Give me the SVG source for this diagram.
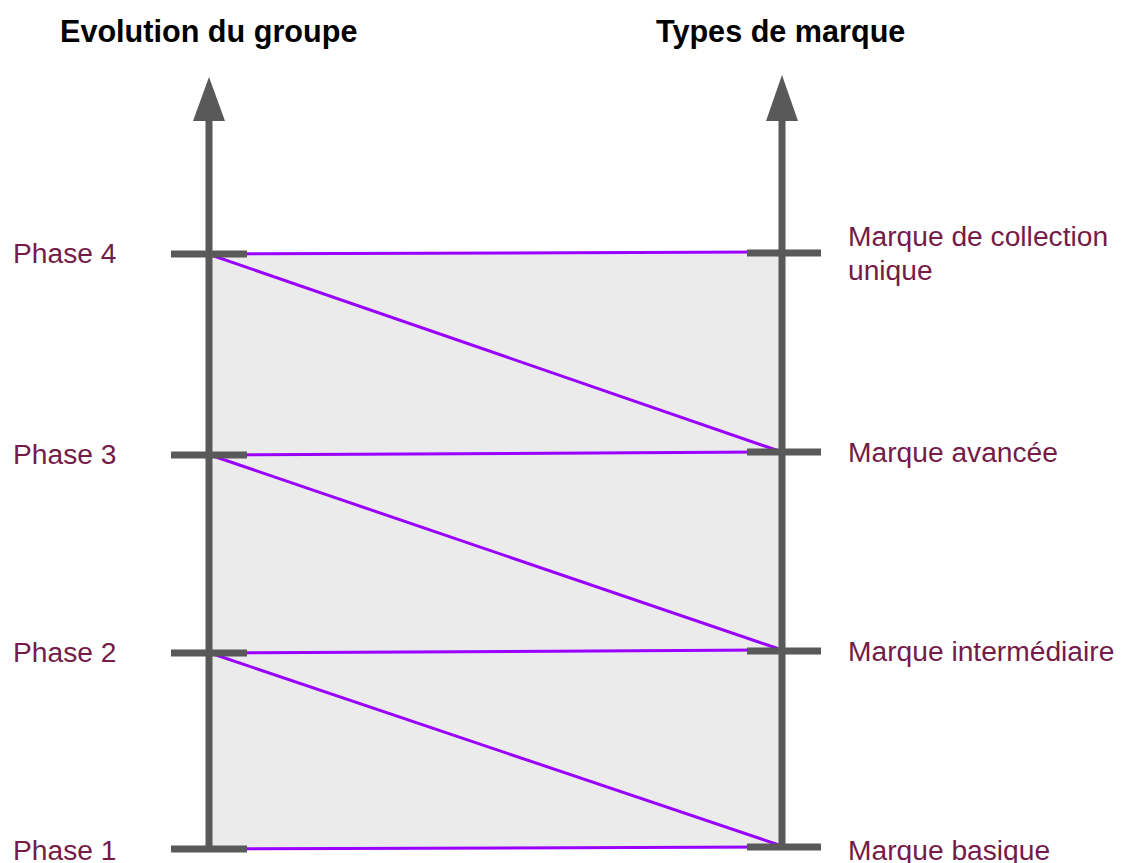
<svg xmlns="http://www.w3.org/2000/svg" width="1121" height="863" viewBox="0 0 1121 863">
<style>
.title{font-family:"Liberation Sans",Arial,sans-serif;font-weight:bold;font-size:30.6px;fill:#000}
.lbl{font-family:"Liberation Sans",Arial,sans-serif;font-size:28.2px;fill:#741b47}
.axis{stroke:#595959;stroke-width:7;fill:none}
.tick{stroke:#595959;stroke-width:7}
.link{stroke:#9900ff;stroke-width:3;fill:none}
</style>
<rect x="209" y="254" width="573" height="595" fill="#ebebeb"/>
<g id="connectors">
<line class="link" x1="209" y1="254" x2="782" y2="252"/>
<line class="link" x1="211" y1="255" x2="782" y2="452"/>
<line class="link" x1="209" y1="455" x2="782" y2="452"/>
<line class="link" x1="213" y1="456" x2="782" y2="650"/>
<line class="link" x1="209" y1="653" x2="782" y2="650"/>
<line class="link" x1="213" y1="654" x2="782" y2="846"/>
<line class="link" x1="209" y1="849" x2="782" y2="847"/>
</g>
<g id="axis-left">
<line class="axis" x1="209" y1="852" x2="209" y2="120"/>
<path d="M209 77 L225 121 L193 121 Z" fill="#595959"/>
<text class="title" x="60" y="42">Evolution du groupe</text>
</g>
<g id="axis-right">
<line class="axis" x1="782" y1="850" x2="782" y2="120"/>
<path d="M782 75 L798 121 L766 121 Z" fill="#595959"/>
<text class="title" x="656" y="42">Types de marque</text>
</g>
<g id="phase4"><line class="tick" x1="171" y1="254" x2="247" y2="254"/><text class="lbl" x="13" y="263">Phase 4</text></g>
<g id="phase3"><line class="tick" x1="171" y1="455" x2="247" y2="455"/><text class="lbl" x="13" y="464">Phase 3</text></g>
<g id="phase2"><line class="tick" x1="171" y1="653" x2="247" y2="653"/><text class="lbl" x="13" y="662">Phase 2</text></g>
<g id="phase1"><line class="tick" x1="171" y1="849" x2="247" y2="849"/><text class="lbl" x="13" y="860">Phase 1</text></g>
<g id="marque-collection"><line class="tick" x1="747" y1="253" x2="821" y2="253"/><text class="lbl" x="848" y="246">Marque de collection</text><text class="lbl" x="848" y="280">unique</text></g>
<g id="marque-avancee"><line class="tick" x1="747" y1="452" x2="821" y2="452"/><text class="lbl" x="848" y="462">Marque avancée</text></g>
<g id="marque-intermediaire"><line class="tick" x1="747" y1="651" x2="821" y2="651"/><text class="lbl" x="848" y="661">Marque intermédiaire</text></g>
<g id="marque-basique"><line class="tick" x1="747" y1="847" x2="821" y2="847"/><text class="lbl" x="848" y="860">Marque basique</text></g>
</svg>
